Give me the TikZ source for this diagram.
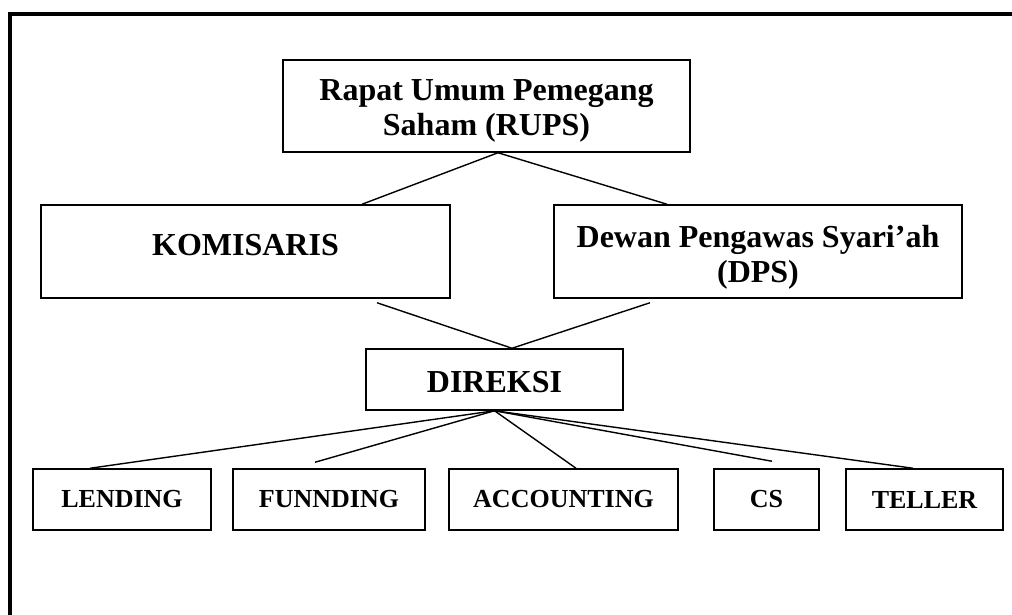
\documentclass[tikz,border=0pt]{standalone}
\usepackage{fontspec}
\setmainfont{Liberation Serif}
\usetikzlibrary{calc}
\tikzset{
  box/.style={draw, line width=1.5pt, inner sep=0pt, align=center, font=\fontsize{32}{36}\selectfont\bfseries},
  label/.style={inner sep=0pt, align=center, font=\fontsize{32}{35}\selectfont\bfseries},
  smallbox/.style={box, minimum height=61pt, font=\fontsize{26}{30}\selectfont\bfseries},
  link/.style={line width=1.4pt},
}
\begin{document}
\begin{tikzpicture}[x=1pt,y=-1pt]
\useasboundingbox (0,0) rectangle (1012,615);
% outer frame (cropped at right and bottom)
\draw[line width=4pt] (1012,14) -- (10,14) -- (10,615);

\node[box, minimum width=407pt, minimum height=92pt] (rups) at (486.5,106) {};
\node[label] (rupst) at (486.5,111) {Rapat Umum Pemegang\\Saham (RUPS)};
\node[box, minimum width=409pt, minimum height=93pt] (kom) at (245.5,251.5) {};
\node[label] (komt) at (245.5,245) {KOMISARIS};
\node[box, minimum width=408pt, minimum height=93pt] (dps) at (758,251.5) {};
\node[label] (dpst) at (758,257) {Dewan Pengawas Syari’ah\\(DPS)};
\node[box, minimum width=257pt, minimum height=61pt] (dir) at (494.5,379.5) {};
\node[label] (dirt) at (494.5,382) {DIREKSI};

\node[smallbox, minimum width=178pt] (lend) at (122,499.5) {LENDING};
\node[smallbox, minimum width=192pt] (fund) at (329,499.5) {FUNNDING};
\node[smallbox, minimum width=229pt] (acc) at (563.5,499.5) {ACCOUNTING};
\node[smallbox, minimum width=105pt] (cs) at (766.5,499.5) {CS};
\node[smallbox, minimum width=157pt] (tel) at (924.5,499.5) {TELLER};

% RUPS to KOMISARIS / DPS
\draw[link] ($(rups.south)+(11.5,0)$) -- ($(kom.north)+(116.5,0)$);
\draw[link] ($(rups.south)+(11.5,0)$) -- ($(dps.north)+(-91,0)$);
% KOMISARIS / DPS to DIREKSI
\coordinate (komend) at ($(kom.south)+(131.5,4)$);
\coordinate (dpsend) at ($(dps.south)+(-108,4)$);
\draw[link] (komend) -- ($(dir.north)+(17.5,0)$);
\draw[link] (dpsend) -- ($(dir.north)+(17.5,0)$);
% DIREKSI to units
\coordinate (fundend) at ($(fund.north)+(-14,-6)$);
\coordinate (csend) at ($(cs.north)+(5.5,-7)$);
\draw[link] (dir.south) -- ($(lend.north)+(-32,0)$);
\draw[link] (dir.south) -- (fundend);
\draw[link] (dir.south) -- ($(acc.north)+(12.5,0)$);
\draw[link] (dir.south) -- (csend);
\draw[link] (dir.south) -- ($(tel.north)+(-11.5,0)$);
\end{tikzpicture}
\end{document}
